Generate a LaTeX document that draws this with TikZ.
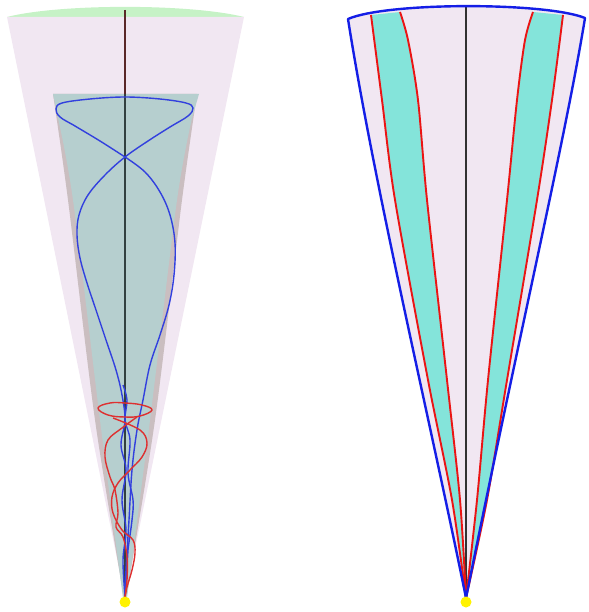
\documentclass[tikz,border=0pt]{standalone}
\usepackage{tikz}
\definecolor{conepink}{RGB}{241,231,242}
\definecolor{capgreen}{RGB}{198,242,198}
\definecolor{grayband}{RGB}{202,190,192}
\definecolor{tealgray}{RGB}{182,207,207}
\definecolor{bandteal}{RGB}{132,228,218}
\definecolor{curveblue}{RGB}{50,64,222}
\definecolor{curvered}{RGB}{222,48,48}
\definecolor{edgeblue}{RGB}{20,30,230}
\definecolor{edgered}{RGB}{235,20,20}
\tikzset{
  bluecurve/.style={draw=curveblue, line width=1.4pt, line join=round},
  redcurve/.style={draw=curvered, line width=1.4pt, line join=round},
  edgeb/.style={draw=edgeblue, line width=2.4pt, line join=round},
  edger/.style={draw=edgered, line width=1.9pt, line join=round},
  axisline/.style={line width=1.4pt},
  apexdot/.style={fill=yellow, draw=none}
}
\begin{document}
\begin{tikzpicture}[x=1pt,y=-1pt]
\useasboundingbox (0,0) rectangle (588,612);
% ---------- left figure ----------
\fill[capgreen] (7,17) .. controls (60,3.5) and (190,3.5) .. (244,17) -- cycle;
\fill[conepink] (7,17) -- (244,17) -- (125,598) -- cycle;
\fill[grayband] plot[smooth, tension=0.5] coordinates {(53,94) (68,200) (95,420) (124,598)}
  -- plot[smooth, tension=0.5] coordinates {(126,598) (155,420) (182,200) (197,94)} -- cycle;
\fill[tealgray] (53,94) -- (199,94) -- (192,118)
  -- plot[smooth, tension=0.5] coordinates {(192,118) (177,200) (150,420) (127,598)}
  -- plot[smooth, tension=0.5] coordinates {(123,598) (100,420) (73,200) (58,118)} -- cycle;
\draw[axisline, draw={rgb,255:red,90;green,40;blue,40}] (125,10) -- (125,94);
\draw[axisline, draw={rgb,255:red,50;green,64;blue,64}] (125,94) -- (125,598);
% blue curve
\draw[bluecurve] plot[smooth, tension=0.6] coordinates {
 (125,157) (100,141) (75,126) (60,117) (56,109) (62,103) (90,99) (125,97)
 (160,99) (186,103) (193,108) (188,116) (170,127) (148,141) (125,157)
 (105,175) (88,195) (79,215) (77,235) (80,258) (87,283) (96,310) (106,340)
 (116,370) (122,395) (125,420) (121,445) (126,470) (122,500) (126,530) (123,560) (125,596)};
\draw[bluecurve] plot[smooth, tension=0.6] coordinates {
 (125,157) (145,172) (160,192) (170,215) (175,243) (174,275) (169,305) (160,335)
 (150,365) (143,400) (137,430) (132,470) (129,520) (126,570) (125,596)};
\draw[bluecurve] plot[smooth, tension=0.6] coordinates {
 (123,385) (127,400) (125,420) (130,440) (128,473) (133,500) (132,520) (128,550) (127,567) (125,596)};
% red helix
\draw[redcurve] plot[smooth cycle, tension=0.7] coordinates {
 (98,408) (110,403) (125,403) (142,405) (152,410) (140,416) (125,417) (108,415)};
\draw[redcurve] plot[smooth, tension=0.6] coordinates {
 (137,417) (122,428) (108,440) (105,457) (110,477) (115,490) (118,513) (116,527) (123,537) (127,557) (127,580) (125,597)};
\draw[redcurve] plot[smooth, tension=0.6] coordinates {
 (113,418) (140,430) (147,443) (142,457) (130,470) (118,483) (112,497) (113,513) (122,530) (133,540) (135,553) (132,570) (127,587) (125,597)};
\fill[apexdot] (125,602) circle (5.5);
% ---------- right figure ----------
\fill[conepink] (348,19) .. controls (387,2) and (545,2) .. (585,18)
  .. controls (565,140) and (520,330) .. (466,598)
  .. controls (430,420) and (375,190) .. (348,19) -- cycle;
\fill[bandteal] plot[smooth, tension=0.5] coordinates {(371,15) (382,100) (395,200) (428,380) (452,500) (466,598)}
  -- plot[smooth, tension=0.5] coordinates {(466,598) (460,500) (447,380) (427,200) (418,100) (408,40) (400,12)} -- cycle;
\fill[bandteal] plot[smooth, tension=0.5] coordinates {(563,15) (552,100) (537,200) (507,380) (487,500) (466,598)}
  -- plot[smooth, tension=0.5] coordinates {(466,598) (477,500) (488,380) (507,200) (517,100) (525,40) (533,12)} -- cycle;
\draw[axisline, line width=1.2pt, draw={rgb,255:red,50;green,50;blue,50}] (466,7) -- (466,598);
\draw[edger] plot[smooth, tension=0.5] coordinates {(371,15) (382,100) (395,200) (428,380) (452,500) (466,598)};
\draw[edger] plot[smooth, tension=0.5] coordinates {(400,12) (408,40) (418,100) (427,200) (447,380) (460,500) (466,598)};
\draw[edger] plot[smooth, tension=0.5] coordinates {(533,12) (525,40) (517,100) (507,200) (488,380) (477,500) (466,598)};
\draw[edger] plot[smooth, tension=0.5] coordinates {(563,15) (552,100) (537,200) (507,380) (487,500) (466,598)};
\draw[edgeb] (348,19) .. controls (387,2) and (545,2) .. (585,18)
  .. controls (565,140) and (520,330) .. (466,598)
  .. controls (430,420) and (375,190) .. (348,19) -- cycle;
\fill[apexdot] (466,602) circle (5.5);
\end{tikzpicture}
\end{document}
